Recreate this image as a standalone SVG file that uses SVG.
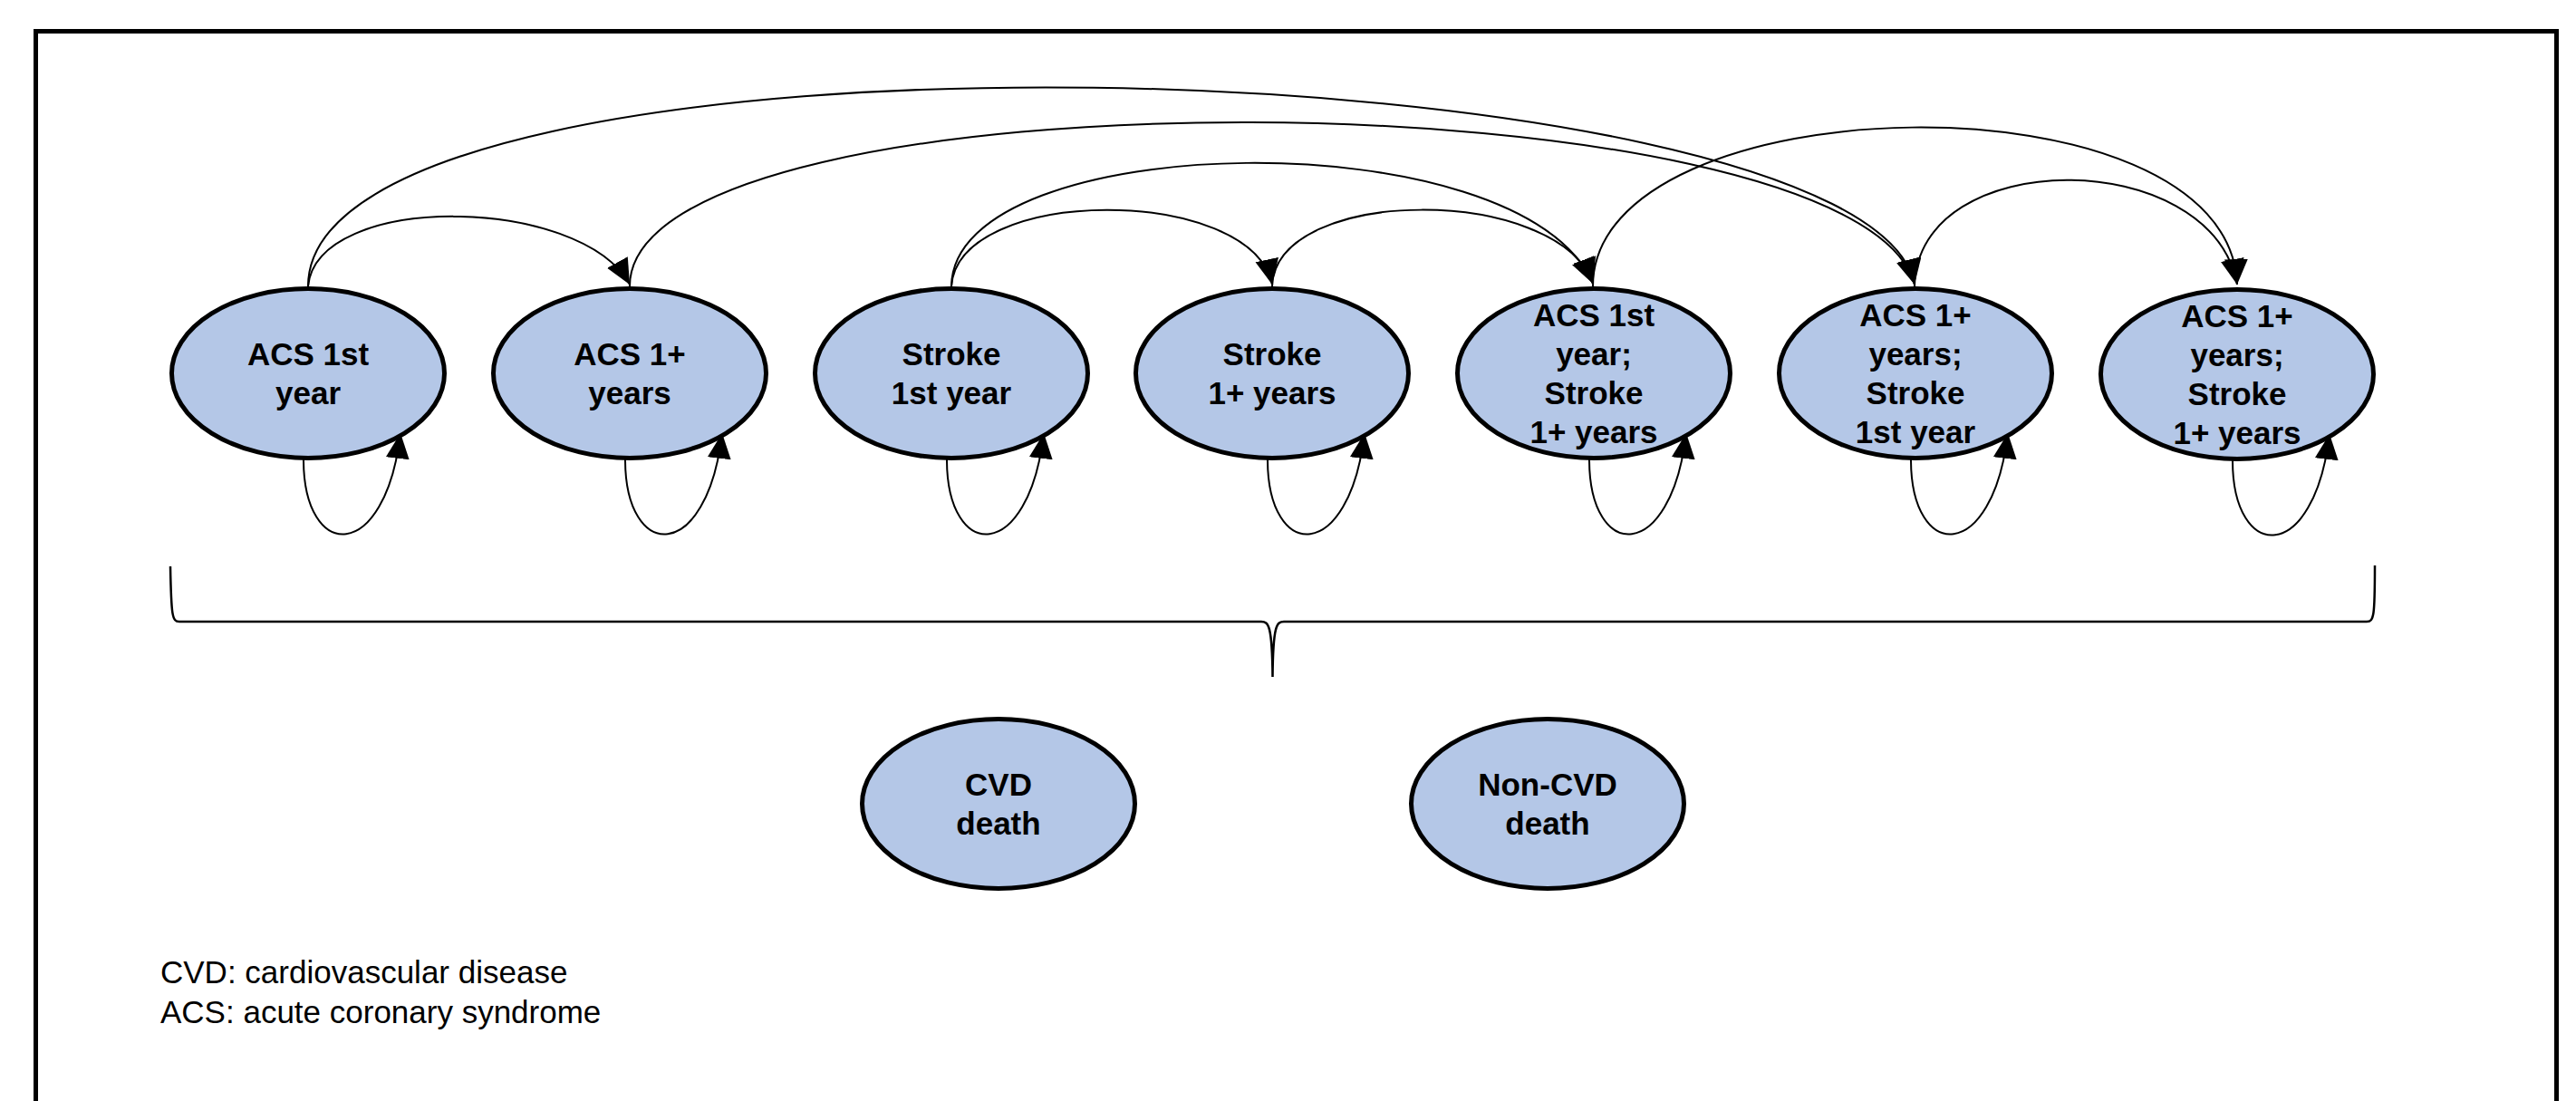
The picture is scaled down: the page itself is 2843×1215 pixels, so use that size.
<svg xmlns="http://www.w3.org/2000/svg" width="2843" height="1215" viewBox="0 0 2843 1215">
<style>
.node{fill:#B4C7E7;stroke:#000;stroke-width:5}
.lbl{font-family:"Liberation Sans",Arial,sans-serif;font-weight:bold;font-size:35px;text-anchor:middle;fill:#000}
.legend{font-family:"Liberation Sans",Arial,sans-serif;font-size:35px;fill:#000}
.edge{fill:none;stroke:#000;stroke-width:2;marker-end:url(#arr)}
</style>
<defs>
<marker id="arr" markerUnits="userSpaceOnUse" markerWidth="30" markerHeight="28" refX="28" refY="13" orient="auto">
<path d="M0,0 L28,13 L0,26 Z" fill="#000"/>
</marker>
</defs>
<rect width="2843" height="1215" fill="#fff"/>
<path d="M39.5,1220 V34.5 H2821.5 V1220" fill="none" stroke="#000" stroke-width="5"/>

<g id="connectors">
<path class="edge" d="M340,316 C350,212 640,215 695,314"/>
<path class="edge" d="M340,316 C340,0 2060,48 2113,314"/>
<path class="edge" d="M695,316 C695,70 2050,80 2113,314"/>
<path class="edge" d="M1050,316 C1058,204 1381,204 1404,314"/>
<path class="edge" d="M1050,316 C1052,140 1680,130 1758,313"/>
<path class="edge" d="M1404,316 C1408,204 1720,204 1758,313"/>
<path class="edge" d="M1758,316 C1758,90 2460,75 2469,314"/>
<path class="edge" d="M2113,316 C2116,160 2440,160 2469,314"/>
<path class="edge" d="M335,507 C335,620 425,623 442,478"/>
<path class="edge" d="M690,507 C690,620 780,623 797,478"/>
<path class="edge" d="M1045,507 C1045,620 1135,623 1152,478"/>
<path class="edge" d="M1399,507 C1399,620 1489,623 1506,478"/>
<path class="edge" d="M1754,507 C1754,620 1844,623 1861,478"/>
<path class="edge" d="M2109,507 C2109,620 2199,623 2216,478"/>
<path class="edge" d="M2464,508 C2464,621 2554,624 2571,479"/>
<path d="M188,625 C189,680 190,686 198,686 L1392,686 C1400,686 1404,690 1404.5,747 C1405,690 1409,686 1417,686 L2612,686 C2620,686 2621,680 2621,624" fill="none" stroke="#000" stroke-width="2.5"/>
</g>

<g id="n1"><ellipse class="node" cx="340" cy="412" rx="150.5" ry="93.5"/>
<text class="lbl" x="340" y="403">ACS 1st</text><text class="lbl" x="340" y="446">year</text></g>
<g id="n2"><ellipse class="node" cx="695" cy="412" rx="150.5" ry="93.5"/>
<text class="lbl" x="695" y="403">ACS 1+</text><text class="lbl" x="695" y="446">years</text></g>
<g id="n3"><ellipse class="node" cx="1050" cy="412" rx="150.5" ry="93.5"/>
<text class="lbl" x="1050" y="403">Stroke</text><text class="lbl" x="1050" y="446">1st year</text></g>
<g id="n4"><ellipse class="node" cx="1404" cy="412" rx="150.5" ry="93.5"/>
<text class="lbl" x="1404" y="403">Stroke</text><text class="lbl" x="1404" y="446">1+ years</text></g>
<g id="n5"><ellipse class="node" cx="1759" cy="412" rx="150.5" ry="93.5"/>
<text class="lbl" x="1759" y="360">ACS 1st</text><text class="lbl" x="1759" y="403">year;</text><text class="lbl" x="1759" y="446">Stroke</text><text class="lbl" x="1759" y="489">1+ years</text></g>
<g id="n6"><ellipse class="node" cx="2114" cy="412" rx="150.5" ry="93.5"/>
<text class="lbl" x="2114" y="360">ACS 1+</text><text class="lbl" x="2114" y="403">years;</text><text class="lbl" x="2114" y="446">Stroke</text><text class="lbl" x="2114" y="489">1st year</text></g>
<g id="n7"><ellipse class="node" cx="2469" cy="413" rx="150.5" ry="93.5"/>
<text class="lbl" x="2469" y="361">ACS 1+</text><text class="lbl" x="2469" y="404">years;</text><text class="lbl" x="2469" y="447">Stroke</text><text class="lbl" x="2469" y="490">1+ years</text></g>
<g id="cvd"><ellipse class="node" cx="1102" cy="887" rx="150.5" ry="93.5"/>
<text class="lbl" x="1102" y="878">CVD</text><text class="lbl" x="1102" y="921">death</text></g>
<g id="noncvd"><ellipse class="node" cx="1708" cy="887" rx="150.5" ry="93.5"/>
<text class="lbl" x="1708" y="878">Non-CVD</text><text class="lbl" x="1708" y="921">death</text></g>

<g id="legend">
<text class="legend" x="177" y="1085">CVD: cardiovascular disease</text>
<text class="legend" x="177" y="1129">ACS: acute coronary syndrome</text>
</g>
</svg>
